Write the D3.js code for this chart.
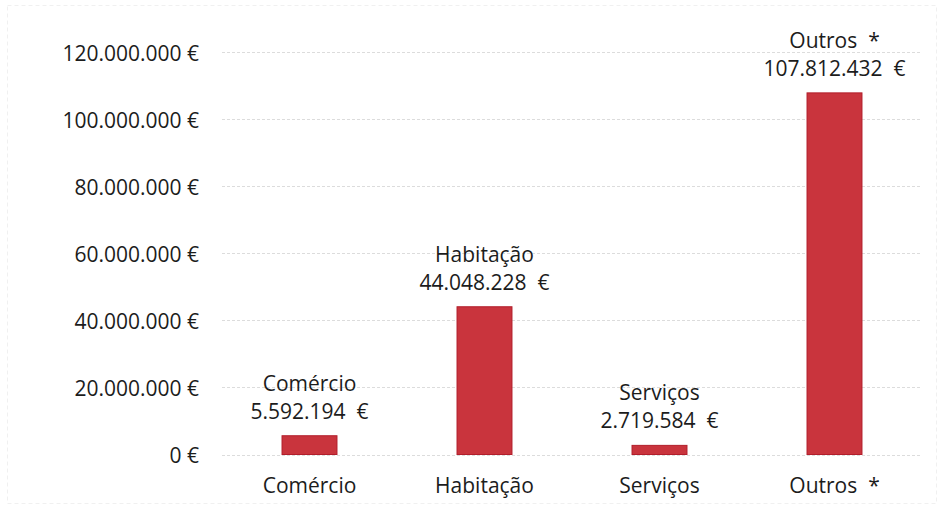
<!DOCTYPE html>
<html>
<head>
<meta charset="utf-8">
<script src="https://cdn.jsdelivr.net/npm/d3@7"></script>
<style>
  body { margin: 0; background: #fff; }
  text { font-family: "Open Sans", "Noto Sans", sans-serif; fill: #1c1c1c; }
</style>
</head>
<body>
<svg id="chart"></svg>
<script>
var categories = ["Comércio", "Habitação", "Serviços", "Outros *"];
var values = [5592194, 44048228, 2719584, 107812432];
var valueLabels = ["5.592.194 €", "44.048.228 €", "2.719.584 €", "107.812.432 €"];
var yTicks = [0, 20000000, 40000000, 60000000, 80000000, 100000000, 120000000];

var W = 941, H = 508;
var FS = "21px";
var svg = d3.select("#chart").attr("width", W).attr("height", H);

// faint scan border
svg.append("rect")
  .attr("x", 7.5).attr("y", 5.5)
  .attr("width", W - 12).attr("height", H - 10)
  .attr("fill", "none")
  .attr("stroke", "#f0f0f0")
  .attr("stroke-dasharray", "4,3");

var x = d3.scaleBand().domain(categories).range([222, 922]).paddingInner(0.686).paddingOuter(0.343);
var y = d3.scaleLinear().domain([0, 120000000]).range([454.5, 52]);

var fmt = function(v) {
  return d3.format(",")(v).replace(/,/g, ".") + "\u00a0€";
};

// gridlines
svg.append("g").selectAll("line")
  .data(yTicks)
  .join("line")
  .attr("x1", 222).attr("x2", 922)
  .attr("y1", function(d) { return Math.round(y(d)) + 0.5; })
  .attr("y2", function(d) { return Math.round(y(d)) + 0.5; })
  .attr("stroke", "#dcdcdc")
  .attr("stroke-dasharray", "3,2");

// y axis
var yAxis = svg.append("g")
  .attr("transform", "translate(199,0)")
  .call(d3.axisLeft(y).tickValues(yTicks).tickSize(0).tickPadding(0).tickFormat(fmt));
yAxis.select(".domain").remove();
yAxis.selectAll("text").style("font-size", FS).attr("dy", "0.4em");

// x axis
var xAxis = svg.append("g")
  .attr("transform", "translate(0,493)")
  .call(d3.axisBottom(x).tickSize(0).tickPadding(0));
xAxis.select(".domain").remove();
xAxis.selectAll("text").style("font-size", FS).attr("y", 0).attr("dy", 0)
  .text(function(d) { return d.replace(" *", "\u00a0\u00a0*"); });

// bars
svg.append("g").selectAll("rect")
  .data(values)
  .join("rect")
  .attr("x", function(d, i) { return x(categories[i]); })
  .attr("y", function(d) { return y(d); })
  .attr("width", x.bandwidth())
  .attr("height", function(d) { return y(0) - y(d); })
  .attr("fill", "#c9343d")
  .attr("stroke", "#b21e2b")
  .attr("stroke-width", 1);

// data labels
var lab = svg.append("g").selectAll("g")
  .data(values)
  .join("g")
  .attr("transform", function(d, i) {
    return "translate(" + (x(categories[i]) + x.bandwidth() / 2) + "," + y(d) + ")";
  });
lab.append("text")
  .attr("text-anchor", "middle")
  .attr("y", -45)
  .style("font-size", FS)
  .text(function(d, i) { return categories[i].replace(" *", "\u00a0\u00a0*"); });
lab.append("text")
  .attr("text-anchor", "middle")
  .attr("y", -17)
  .style("font-size", FS)
  .text(function(d, i) { return valueLabels[i].replace(" €", "\u00a0\u00a0€"); });
</script>
</body>
</html>
